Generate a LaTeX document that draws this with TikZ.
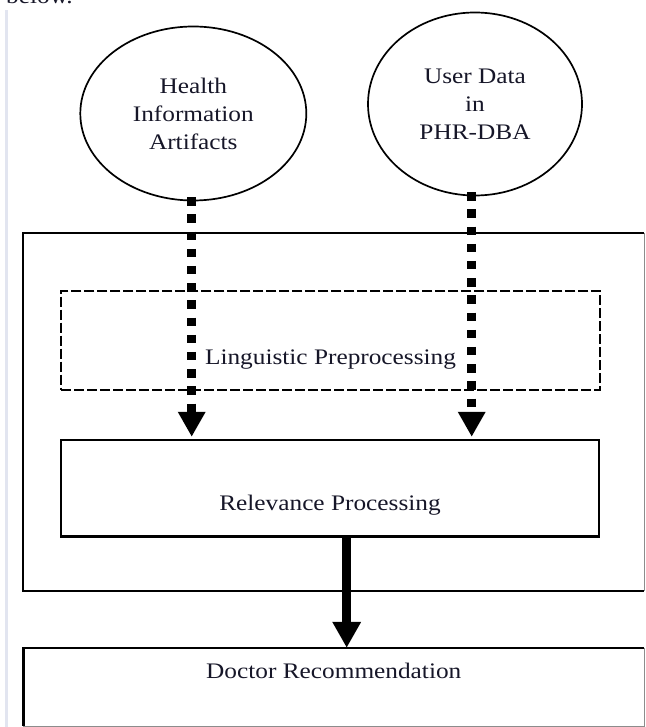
\documentclass[tikz,border=0pt]{standalone}
\usepackage{fontspec}
\setmainfont{Liberation Serif}[FakeStretch=1.14]
\usetikzlibrary{arrows.meta,shapes.geometric}
\definecolor{ink}{RGB}{22,22,40}
\definecolor{marginbar}{RGB}{226,229,240}
\definecolor{edgegray}{RGB}{140,140,140}
\begin{document}
\begin{tikzpicture}[x=1pt,y=-1pt,
  txt/.style={text=ink, font=\fontsize{22.2}{28}\selectfont, inner sep=0pt, align=center},
  store/.style={ellipse, draw, line width=1.7pt, inner sep=0pt, txt},
  stage/.style={rectangle, draw, line width=2.3pt, inner sep=0pt},
  prestage/.style={stage, line width=2.5pt, dash pattern=on 10pt off 3pt},
  frame/.style={rectangle, draw=none, inner sep=0pt},
  feed/.style={line width=8.5pt, dash pattern=on 8.5pt off 8.7pt, -{Triangle[width=26pt,length=25pt]}},
  result/.style={line width=8.5pt, -{Triangle[width=27pt,length=26pt]}},
]
\useasboundingbox (0,0) rectangle (645,727);

% page margin rule and the end of the preceding sentence
\fill[marginbar] (5,10) rectangle (8.3,727);
\node[txt, anchor=base west] (tail) at (6,3.5) {below.};

% data sources
\node[store, minimum width=226pt, minimum height=174pt] (hia) at (193.3,113.5) {Health\\Information\\Artifacts};
\node[store, minimum width=214pt, minimum height=183pt] (ud) at (475,104) {User Data\\in\\PHR-DBA};

% enclosing system frame (open to the right margin)
\node[frame, minimum width=620.5pt, minimum height=357.4pt] (outer) at (333.75,412) {};
\draw[line width=2.3pt] (outer.north east) -- (outer.north west) -- (outer.south west) -- (outer.south east);
\draw[edgegray, line width=1pt] (outer.north east) -- (outer.south east);

% processing stages
\node[prestage, minimum width=539pt, minimum height=99.3pt] (ling) at (330.5,340.5) {};
\node[txt, anchor=base] (lingtxt) at ([yshift=-23.5pt]ling.center) {Linguistic Preprocessing};

\node[stage, minimum width=538pt, minimum height=96.5pt] (rel) at (330,488.2) {};
\node[txt, anchor=base] (reltxt) at ([yshift=-22.5pt]rel.center) {Relevance Processing};

% output
\node[frame, minimum width=620.5pt, minimum height=78pt] (doc) at (333.75,687) {};
\draw[line width=2.5pt] (doc.north east) -- (doc.north west) -- (doc.south west);
\draw[edgegray, line width=1pt] (doc.north east) -- (doc.south east) -- (doc.south west);
\node[txt, anchor=base] (doctxt) at ([yshift=9pt]doc.center) {Doctor Recommendation};

% flows
\draw[feed] ([xshift=-1.6pt,yshift=4.2pt]hia.south) -- ([xshift=-1.6pt,yshift=2pt]hia.south |- rel.north);
\draw[feed] ([xshift=-3.3pt,yshift=4.2pt]ud.south) -- ([xshift=-3.3pt,yshift=2pt]ud.south |- rel.north);
\draw[result] ([xshift=16.7pt]rel.south) -- ([xshift=16.7pt]rel.south |- doc.north);
\end{tikzpicture}
\end{document}
